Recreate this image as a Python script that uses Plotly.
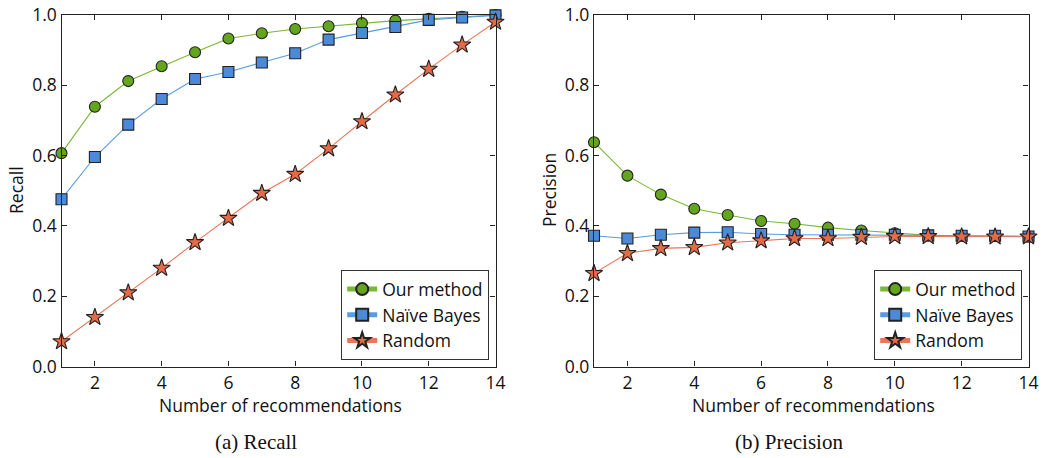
import plotly.graph_objects as go

x_vals = list(range(1, 15))
recall_ours = [0.607, 0.739, 0.812, 0.854, 0.894, 0.933, 0.948, 0.960, 0.968, 0.977, 0.984, 0.989, 0.995, 1.0]
recall_nb = [0.476, 0.596, 0.688, 0.761, 0.818, 0.838, 0.865, 0.891, 0.930, 0.949, 0.966, 0.986, 0.993, 0.999]
recall_rand = [0.071, 0.140, 0.210, 0.280, 0.353, 0.422, 0.493, 0.547, 0.620, 0.697, 0.773, 0.846, 0.915, 0.980]
prec_ours = [0.638, 0.543, 0.489, 0.449, 0.431, 0.414, 0.406, 0.395, 0.387, 0.379, 0.373, 0.372, 0.371, 0.370]
prec_nb = [0.372, 0.364, 0.375, 0.381, 0.382, 0.377, 0.375, 0.375, 0.375, 0.375, 0.373, 0.372, 0.372, 0.370]
prec_rand = [0.265, 0.322, 0.336, 0.339, 0.352, 0.358, 0.364, 0.364, 0.368, 0.370, 0.370, 0.369, 0.369, 0.369]
series_names = ["Our method", "Naïve Bayes", "Random"]
x_ticks = [2, 4, 6, 8, 10, 12, 14]
y_ticks = [0.0, 0.2, 0.4, 0.6, 0.8, 1.0]

fill_colors = ["#63a51c", "#4a8ad8", "#e56a48"]
line_colors = ["#7ab833", "#5b9be0", "#e8775a"]
symbols = ["circle", "square", "star"]
sizes = [11, 11, 13]

fig = go.Figure()
W, H = 1042, 458
font_sans = "Open Sans, Lato, sans-serif"
FS = 17.5

panels = [
    (recall_ours, recall_nb, recall_rand, "x", "y", "legend"),
    (prec_ours, prec_nb, prec_rand, "x2", "y2", "legend2"),
]
for (a, b, c, xa, ya, lg) in panels:
    for i, ys in enumerate([a, b, c]):
        fig.add_trace(go.Scatter(
            x=x_vals, y=ys, mode="lines+markers", name=series_names[i],
            line=dict(color=line_colors[i], width=1.1),
            marker=dict(symbol=symbols[i], size=sizes[i], color=fill_colors[i],
                        line=dict(color="#222222", width=1.1)),
            xaxis=xa, yaxis=ya, legend=lg, cliponaxis=False,
        ))

y_top, y_bot = 15, 366.5
ydom = [1 - y_bot / H, 1 - y_top / H]
axis_common = dict(
    showline=True, linecolor="#222222", linewidth=1.3, mirror="ticks",
    ticks="inside", ticklen=5, tickcolor="#222222", tickwidth=1,
    showgrid=False, zeroline=False, automargin=False,
    tickfont=dict(family=font_sans, size=FS, color="#111111"),
)
fig.update_layout(
    width=W, height=H, margin=dict(l=0, r=0, t=0, b=0, autoexpand=False),
    paper_bgcolor="white", plot_bgcolor="white", showlegend=True,
    xaxis=dict(domain=[61.5 / W, 495.5 / W], range=[1, 14], tickvals=x_ticks, anchor="y", **axis_common),
    yaxis=dict(domain=ydom, range=[0, 1], tickvals=y_ticks, tickformat=".1f", anchor="x", **axis_common),
    xaxis2=dict(domain=[594 / W, 1028.5 / W], range=[1, 14], tickvals=x_ticks, anchor="y2", **axis_common),
    yaxis2=dict(domain=ydom, range=[0, 1], tickvals=y_ticks, tickformat=".1f", anchor="x2", **axis_common),
)
legend_common = dict(
    xanchor="right", yanchor="bottom", y=1 - 360 / H,
    bgcolor="white", bordercolor="#333333", borderwidth=1.2,
    font=dict(family=font_sans, size=FS, color="#111111"),
    itemsizing="constant", tracegroupgap=0, itemwidth=30,
)
fig.update_layout(
    legend=dict(x=489 / W, **legend_common),
    legend2=dict(x=1022 / W, **legend_common),
)

annots = [
    ("Number of recommendations", 280 / W, 1 - 405 / H, 0, font_sans, FS),
    ("Number of recommendations", 813 / W, 1 - 405 / H, 0, font_sans, FS),
    ("Recall", 16 / W, 1 - 190 / H, -90, font_sans, FS),
    ("Precision", 549 / W, 1 - 190 / H, -90, font_sans, FS),
    ("(a) Recall", 256 / W, 1 - 442 / H, 0, "Liberation Serif, Times New Roman, serif", 21),
    ("(b) Precision", 789 / W, 1 - 442 / H, 0, "Liberation Serif, Times New Roman, serif", 21),
]
for text, ax, ay, ang, fam, sz in annots:
    fig.add_annotation(text=text, x=ax, y=ay, xref="paper", yref="paper",
                       showarrow=False, textangle=ang, xanchor="center", yanchor="middle",
                       font=dict(family=fam, size=sz, color="#111111"))

fig.write_html(
    "out.html",
    config={"displayModeBar": False},
    post_script="document.body.style.margin='0px';document.body.style.overflow='hidden';",
)
